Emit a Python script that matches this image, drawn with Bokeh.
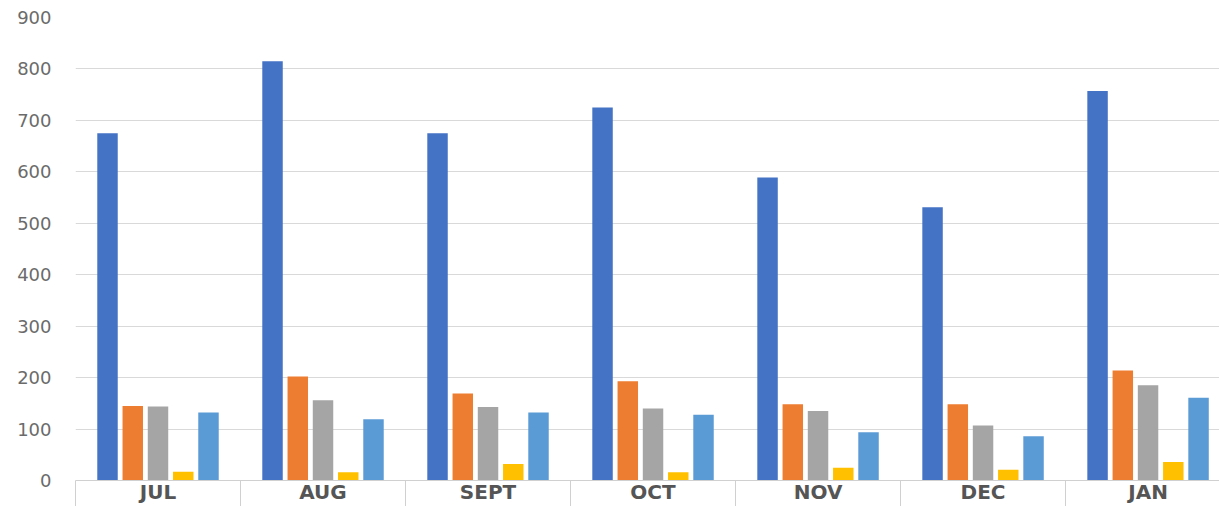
import numpy as np
from bokeh.plotting import figure
from bokeh.models import Range1d, FixedTicker, LinearAxis
from bokeh.embed import file_html
from bokeh.resources import INLINE

months = ["JUL", "AUG", "SEPT", "OCT", "NOV", "DEC", "JAN"]
series_names = ["Series 1", "Series 2", "Series 3", "Series 4", "Series 5"]
series1 = [675, 815, 675, 725, 589, 531, 757]
series2 = [145, 202, 169, 193, 148, 148, 214]
series3 = [144, 156, 143, 140, 135, 107, 185]
series4 = [17, 16, 32, 16, 25, 21, 36]
series5 = [132, 119, 132, 128, 94, 86, 161]
y_ticks = [0, 100, 200, 300, 400, 500, 600, 700, 800, 900]

colors = ["#4472C4", "#ED7D31", "#A5A5A5", "#FFC000", "#5B9BD5"]
offsets = [-0.306, -0.153, 0.0, 0.153, 0.306]
bar_width = 0.124

n = len(months)
p = figure(width=1219, height=506, output_backend="svg", toolbar_location=None,
           x_range=Range1d(0, 6.933), y_range=Range1d(0, 900),
           min_border_left=75, min_border_right=0, min_border_top=17, min_border_bottom=26,
           x_axis_location=None)
p.outline_line_color = None
p.background_fill_color = "white"
p.border_fill_color = "white"

for vals, col, off in zip([series1, series2, series3, series4, series5], colors, offsets):
    xs = np.arange(n) + 0.5 + off
    p.vbar(x=xs, top=vals, width=bar_width, color=col, line_color=None)

# y axis
p.yaxis.ticker = FixedTicker(ticks=y_ticks)
p.yaxis.axis_line_color = None
p.yaxis.major_tick_line_color = None
p.yaxis.minor_tick_line_color = None
p.yaxis.major_tick_out = 0
p.yaxis.major_label_standoff = 24
p.yaxis.major_label_text_font = "DejaVu Sans"
p.yaxis.major_label_text_font_size = "18px"
p.yaxis.major_label_text_color = "#6b6b6b"
p.ygrid.ticker = FixedTicker(ticks=y_ticks)
p.ygrid.grid_line_color = "#D9D9D9"
p.ygrid.grid_line_width = 1
p.xgrid.grid_line_color = None

# x axis: labels at category centers, separators as minor ticks at boundaries
centers = [i + 0.5 for i in range(n)]
bounds = [float(i) for i in range(n + 1)]
xaxis = LinearAxis(ticker=FixedTicker(ticks=centers, minor_ticks=bounds),
                   major_label_overrides={c: m for c, m in zip(centers, months)})
xaxis.axis_line_color = "#D0D0D0"
xaxis.axis_line_width = 1
xaxis.major_tick_line_color = None
xaxis.major_tick_out = 0
xaxis.major_tick_in = 0
xaxis.minor_tick_line_color = "#D0D0D0"
xaxis.minor_tick_out = 26
xaxis.minor_tick_in = 0
xaxis.major_label_standoff = -27
xaxis.major_label_text_font = "DejaVu Sans"
xaxis.major_label_text_font_style = "bold"
xaxis.major_label_text_font_size = "20px"
xaxis.major_label_text_color = "#555555"
p.add_layout(xaxis, "below")

open("out.html", "w").write(file_html(p, INLINE))
